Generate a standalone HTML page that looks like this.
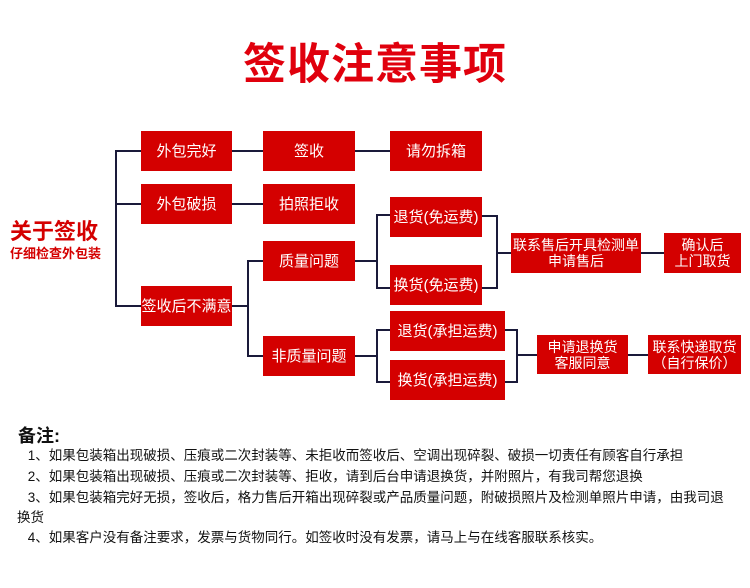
<!DOCTYPE html>
<html><head><meta charset="utf-8"><style>
body{margin:0;width:750px;height:588px;background:#fff;position:relative;overflow:hidden;font-family:"Liberation Sans","Noto Sans CJK SC",sans-serif}
.b{position:absolute;background:#d40000;color:#fff;display:flex;align-items:center;justify-content:center;text-align:center;font-size:15px;line-height:17px}
.s{font-size:14px;line-height:16px}
.t{position:absolute;left:0;width:750px;top:30px;text-align:center;color:#e0000d;font-size:43px;font-weight:bold;letter-spacing:1px}
.n{position:absolute;font-size:13.5px;color:#111;white-space:nowrap}
</style></head><body>
<div class="t">签收注意事项</div>
<svg width="750" height="588" style="position:absolute;left:0;top:0">
<g stroke="#1a1a3a" stroke-width="2" fill="none">
<polyline points="141,151 116,151 116,306 141,306"/>
<line x1="116" y1="204" x2="141" y2="204"/>
<line x1="232" y1="151" x2="390" y2="151"/>
<line x1="232" y1="204" x2="263" y2="204"/>
<line x1="232" y1="306" x2="248" y2="306"/>
<polyline points="263,261 248,261 248,356 263,356"/>
<line x1="355" y1="261" x2="377" y2="261"/>
<polyline points="390,215 377,215 377,288 390,288"/>
<polyline points="482,216 497,216 497,288 482,288"/>
<line x1="497" y1="253" x2="511" y2="253"/>
<line x1="641" y1="253" x2="664" y2="253"/>
<line x1="355" y1="356" x2="377" y2="356"/>
<polyline points="390,330 377,330 377,382 390,382"/>
<polyline points="505,330 517,330 517,382 505,382"/>
<line x1="517" y1="355" x2="537" y2="355"/>
<line x1="628" y1="355" x2="648" y2="355"/>
</g></svg>
<div style="position:absolute;left:10px;top:214px;color:#d40000;font-size:22px;font-weight:bold">关于签收</div>
<div style="position:absolute;left:10px;top:243px;color:#d40000;font-size:13px;font-weight:bold">仔细检查外包装</div>
<div class="b" style="left:141px;top:131px;width:91px;height:40px">外包完好</div>
<div class="b" style="left:263px;top:131px;width:92px;height:40px">签收</div>
<div class="b" style="left:390px;top:131px;width:92px;height:40px">请勿拆箱</div>
<div class="b" style="left:141px;top:184px;width:91px;height:40px">外包破损</div>
<div class="b" style="left:263px;top:184px;width:92px;height:40px">拍照拒收</div>
<div class="b" style="left:141px;top:286px;width:91px;height:40px">签收后不满意</div>
<div class="b" style="left:263px;top:241px;width:92px;height:40px">质量问题</div>
<div class="b" style="left:263px;top:336px;width:92px;height:40px">非质量问题</div>
<div class="b" style="left:390px;top:197px;width:92px;height:40px">退货(免运费)</div>
<div class="b" style="left:390px;top:265px;width:92px;height:40px">换货(免运费)</div>
<div class="b s" style="left:511px;top:233px;width:130px;height:40px">联系售后开具检测单<br>申请售后</div>
<div class="b s" style="left:664px;top:233px;width:77px;height:40px">确认后<br>上门取货</div>
<div class="b" style="left:390px;top:311px;width:115px;height:40px">退货(承担运费)</div>
<div class="b" style="left:390px;top:360px;width:115px;height:40px">换货(承担运费)</div>
<div class="b s" style="left:537px;top:335px;width:91px;height:39px">申请退换货<br>客服同意</div>
<div class="b s" style="left:648px;top:335px;width:93px;height:39px">联系快递取货<br>（自行保价）</div>
<div class="n" style="left:18px;top:422px;font-size:18px;font-weight:bold">备注:</div>
<div class="n" style="left:24px;top:444px">&nbsp;1、如果包装箱出现破损、压痕或二次封装等、未拒收而签收后、空调出现碎裂、破损一切责任有顾客自行承担</div>
<div class="n" style="left:24px;top:465px">&nbsp;2、如果包装箱出现破损、压痕或二次封装等、拒收，请到后台申请退换货，并附照片，有我司帮您退换</div>
<div class="n" style="left:24px;top:486px">&nbsp;3、如果包装箱完好无损，签收后，格力售后开箱出现碎裂或产品质量问题，附破损照片及检测单照片申请，由我司退</div>
<div class="n" style="left:17px;top:506px">换货</div>
<div class="n" style="left:24px;top:526px">&nbsp;4、如果客户没有备注要求，发票与货物同行。如签收时没有发票，请马上与在线客服联系核实。</div>
</body></html>
